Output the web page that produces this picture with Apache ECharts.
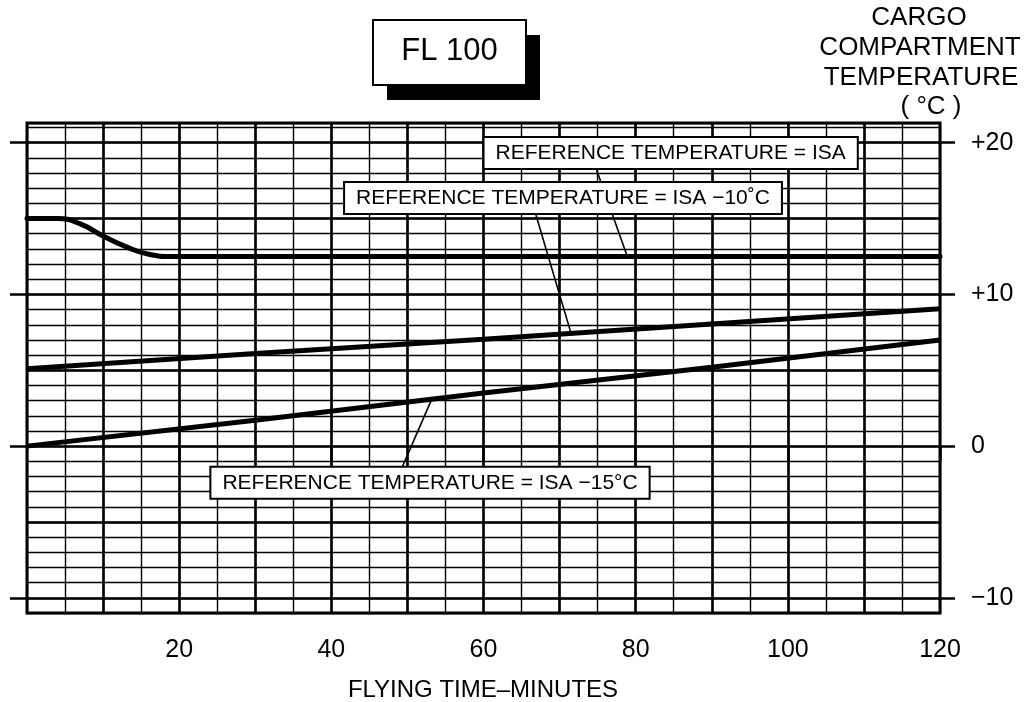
<!DOCTYPE html>
<html><head><meta charset="utf-8">
<style>html,body{margin:0;padding:0;background:#fff}#c{width:1027px;height:702px}</style>
<script src="https://cdn.jsdelivr.net/npm/echarts@6/dist/echarts.min.js"></script>
</head><body><div id="c"></div>
<script>
const FONT = '"Liberation Sans", Arial, Helvetica, sans-serif';

// Data (minutes, °C)
const isaTime   = [0, 4, 7, 10, 13, 16, 19, 40, 60, 80, 100, 120];
const isaTemp   = [15, 15, 14.65, 13.85, 13.15, 12.65, 12.5, 12.5, 12.5, 12.5, 12.5, 12.5];
const isa10Time = [0, 30, 60, 90, 120];
const isa10Temp = [5.1, 6.1, 7.05, 8.05, 9.05];
const isa15Time = [0, 30, 60, 90, 120];
const isa15Temp = [0, 1.7, 3.5, 5.2, 7.0];

const xTickLabels = [20, 40, 60, 80, 100, 120];
const yTickLabels = [-10, 0, 10, 20];
const xMajor = [10, 20, 30, 40, 50, 60, 70, 80, 90, 100, 110];
const yMajor = [-10, -5, 0, 5, 10, 15, 20];

const labelTexts = [
  'REFERENCE TEMPERATURE = ISA',
  'REFERENCE TEMPERATURE = ISA \u221210\u02DAC',
  'REFERENCE TEMPERATURE = ISA \u221215\u00B0C'
];
const labelAt = [[84.6, 19.33], [70.45, 16.35], [52.97, -2.42]];
const leaders = [
  [[74.8, 18.3], [78.9, 12.5]],
  [[66.8, 15.4], [71.5, 7.45]],
  [[49.3, -1.4], [53.2, 3.1]]
];

const Y_MIN = -11, Y_MAX = 21.3;

const zip = (a, b) => a.map((v, i) => [v, b[i]]);

const chart = echarts.init(document.getElementById('c'));

const baseY = { type: 'value', min: Y_MIN, max: Y_MAX, axisLine: { show: false }, splitLine: { show: false }, axisLabel: { show: false }, axisTick: { show: false } };

const option = {
  animation: false,
  backgroundColor: '#fff',
  grid: { left: 27, top: 123, right: 87, bottom: 89, show: true, borderColor: '#000', borderWidth: 3, containLabel: false },
  xAxis: [
    { type: 'value', min: 0, max: 120, interval: 5, position: 'bottom',
      axisLine: { show: false }, axisTick: { show: false }, axisLabel: { show: false },
      splitLine: { show: true, lineStyle: { color: '#000', width: 1.4 } } },
    { type: 'value', min: 0, max: 120, position: 'bottom',
      axisLine: { show: false }, splitLine: { show: false },
      axisTick: { show: true, inside: false, length: 15, customValues: xTickLabels, lineStyle: { color: '#000', width: 2.5 } },
      axisLabel: { show: true, customValues: xTickLabels, margin: 25, fontSize: 25, color: '#000', fontFamily: FONT } }
  ],
  yAxis: [
    Object.assign({}, baseY, { interval: 1, position: 'left', splitLine: { show: true, lineStyle: { color: '#000', width: 1.4 } } }),
    Object.assign({}, baseY, { position: 'left',
      axisTick: { show: true, inside: false, length: 17, customValues: yTickLabels, lineStyle: { color: '#000', width: 2.5 } } }),
    Object.assign({}, baseY, { position: 'right',
      axisTick: { show: true, inside: false, length: 15, customValues: yTickLabels, lineStyle: { color: '#000', width: 2.5 } },
      axisLabel: { show: true, customValues: yTickLabels, margin: 31, align: 'left', fontSize: 25, color: '#000', fontFamily: FONT,
        formatter: v => v > 0 ? '+' + v : (v < 0 ? '\u2212' + Math.abs(v) : '0') } })
  ],
  series: [
    { type: 'line', data: [], z: 1, silent: true,
      markLine: { silent: true, symbol: ['none', 'none'], label: { show: false },
        lineStyle: { color: '#000', width: 2.6, type: 'solid' },
        data: yMajor.map(v => ({ yAxis: v })).concat(xMajor.map(v => ({ xAxis: v }))) } },
    { type: 'line', data: [], z: 2, silent: true,
      markLine: { silent: true, symbol: ['none', 'none'], label: { show: false },
        lineStyle: { color: '#000', width: 1.6, type: 'solid' },
        data: leaders.map(l => [{ coord: l[0] }, { coord: l[1] }]) } },
    { name: 'ISA', type: 'line', z: 3, data: zip(isaTime, isaTemp), smooth: 0.5, symbol: 'none',
      lineStyle: { color: '#000', width: 5, join: 'round', cap: 'round' } },
    { name: 'ISA -10', type: 'line', z: 3, data: zip(isa10Time, isa10Temp), symbol: 'none',
      lineStyle: { color: '#000', width: 5 } },
    { name: 'ISA -15', type: 'line', z: 3, data: zip(isa15Time, isa15Temp), symbol: 'none',
      lineStyle: { color: '#000', width: 5 } }
  ]
};
chart.setOption(option);

const txt = (t, x, y, size) => ({ type: 'text', x: x, y: y, z: 20,
  style: { text: t, fontSize: size, fontFamily: FONT, fill: '#000', align: 'center', verticalAlign: 'middle' } });

const graphics = [
  { type: 'rect', z: 18, shape: { x: 387, y: 35, width: 153, height: 65 }, style: { fill: '#000' } },
  { type: 'rect', z: 19, shape: { x: 373, y: 20, width: 153, height: 65 }, style: { fill: '#fff', stroke: '#000', lineWidth: 2 } },
  txt('FL 100', 449.5, 51, 31),
  txt('CARGO', 919, 18, 26),
  txt('COMPARTMENT', 920, 48, 26),
  txt('TEMPERATURE', 921, 78, 26),
  txt('( \u00B0C )', 931, 107, 26),
  txt('FLYING TIME\u2013MINUTES', 483, 690, 24)
];

labelTexts.forEach((t, i) => {
  const p = chart.convertToPixel({ gridIndex: 0 }, labelAt[i]);
  graphics.push({ type: 'text', x: p[0], y: p[1], z: 20,
    style: { text: t, fontSize: 21, fontFamily: FONT, fill: '#000', align: 'center', verticalAlign: 'middle',
      backgroundColor: '#fff', borderColor: '#000', borderWidth: 2, padding: [5, 11, 4, 11] } });
});

chart.setOption({ graphic: graphics });
</script></body></html>
